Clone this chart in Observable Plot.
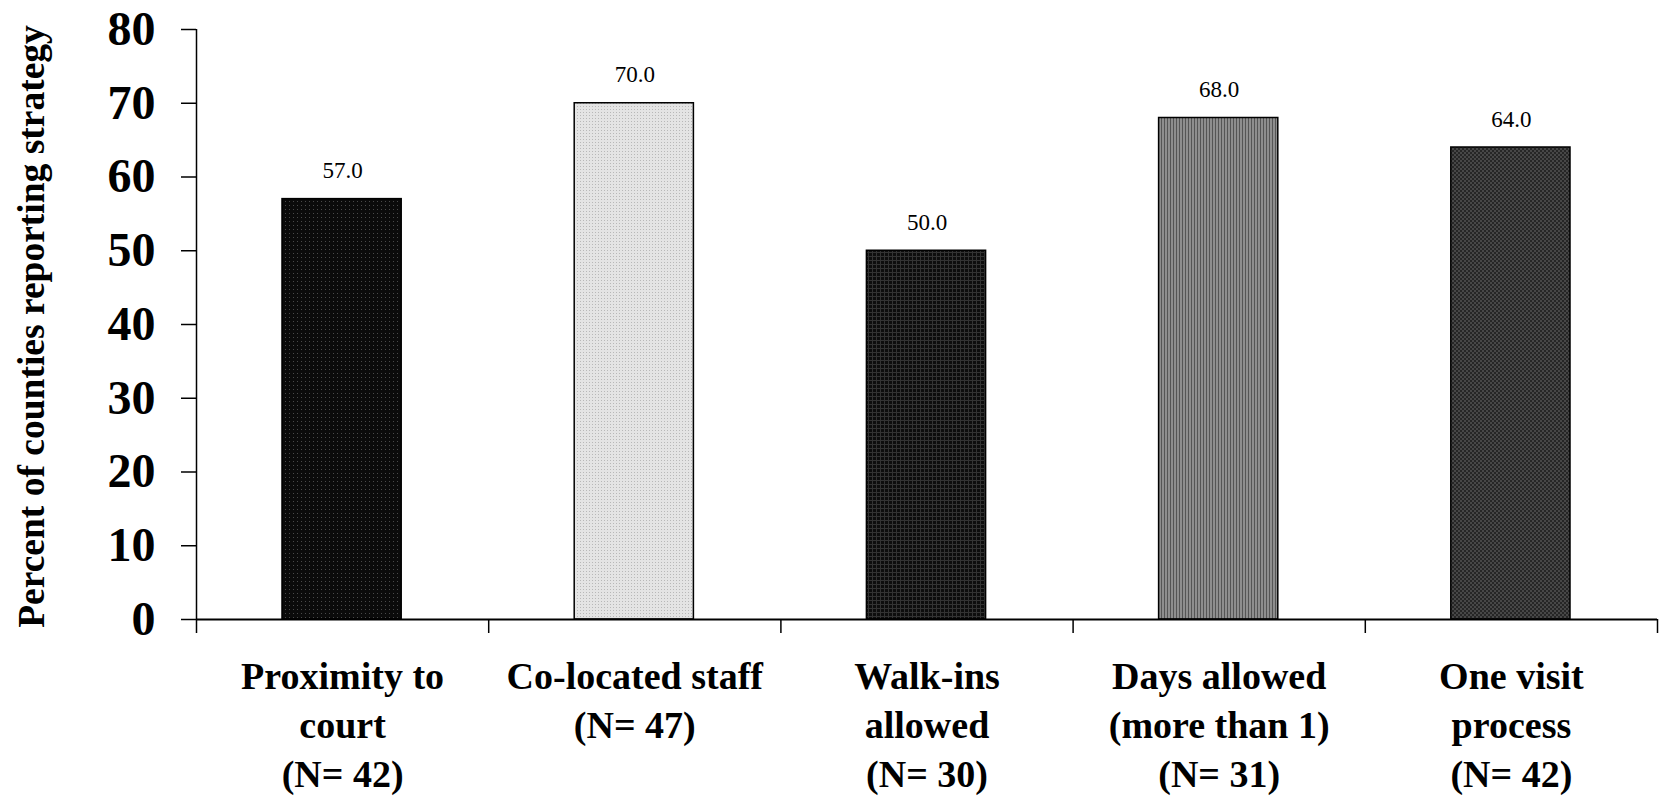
<!DOCTYPE html>
<html>
<head>
<meta charset="utf-8">
<script src="https://cdn.jsdelivr.net/npm/d3@7"></script>
<script src="https://cdn.jsdelivr.net/npm/@observablehq/plot@0.6"></script>
<style>
  html, body { margin: 0; padding: 0; background: #fff; }
  #chart { width: 1659px; height: 798px; }
</style>
</head>
<body>
<div id="chart"></div>
<script>
// ---- data ----
const categories = [
  "Proximity to\ncourt\n(N= 42)",
  "Co-located staff\n(N= 47)",
  "Walk-ins\nallowed\n(N= 30)",
  "Days allowed\n(more than 1)\n(N= 31)",
  "One visit\nprocess\n(N= 42)"
];
const values = [57.0, 70.0, 50.0, 68.0, 64.0];
const yTicks = [0, 10, 20, 30, 40, 50, 60, 70, 80];
const yLabel = ["Percent of counties reporting strategy"];
const patternIds = ["pat0", "pat1", "pat2", "pat3", "pat4"];

// ---- chart ----
const data = values.map((v, i) => ({i, v, cat: categories[i], pat: `url(#${patternIds[i]})`}));
const boundaries = d3.range(categories.length + 1);
const centers = categories.map((c, i) => i + 0.5);
const font = "'Liberation Serif', 'Times New Roman', serif";

const svg = Plot.plot({
  width: 1659,
  height: 798,
  marginLeft: 196,
  marginRight: 2,
  marginTop: 29,
  marginBottom: 179,
  style: {fontFamily: font, color: "#000", background: "#fff", overflow: "visible"},
  x: {type: "linear", domain: [0, categories.length], axis: null},
  y: {domain: [0, 80], axis: null},
  color: {type: "identity"},
  marks: [
    Plot.rectY(data, {
      x1: d => d.i, x2: d => d.i + 1, y1: 0, y2: "v",
      insetLeft: 86, insetRight: 87,
      fill: "pat", stroke: "#000", strokeWidth: 1.5
    }),
    Plot.text(data, {
      x: d => d.i + 0.5, y: "v", text: d => d.v.toFixed(1),
      lineAnchor: "bottom", dy: -21, fontSize: 23, fill: "#000"
    }),
    Plot.ruleX([0], {stroke: "#000", strokeWidth: 1.5}),
    Plot.ruleY([0], {stroke: "#000", strokeWidth: 2.2}),
    Plot.axisY({
      ticks: yTicks, tickSize: 15, tickPadding: 26, tickFormat: d => String(d),
      fontSize: 48, fontWeight: "bold", label: null, strokeWidth: 1.5
    }),
    Plot.axisX({
      ticks: boundaries, tickSize: 14, tickFormat: () => "", label: null, strokeWidth: 1.5
    }),
    Plot.axisX({
      ticks: centers, tickSize: 0, tickPadding: 35,
      tickFormat: v => categories[Math.floor(v)],
      fontSize: 38, fontWeight: "bold", lineHeight: 1.29, label: null
    }),
    Plot.text(yLabel, {
      frameAnchor: "left", text: d => d, rotate: -90, textAnchor: "middle",
      lineAnchor: "bottom", dx: -153, dy: 2, fontSize: 37.5, fontWeight: "bold", fill: "#000"
    })
  ]
});

// SVG fill patterns imitating the original hatch textures
const defs = `
<defs>
  <pattern id="pat0" width="4" height="4" patternUnits="userSpaceOnUse">
    <rect width="4" height="4" fill="#0b0b0b"/>
    <rect x="1" y="1" width="1" height="1" fill="#4a4a4a"/>
  </pattern>
  <pattern id="pat1" width="3" height="3" patternUnits="userSpaceOnUse">
    <rect width="3" height="3" fill="#e4e4e4"/>
    <rect x="1" y="1" width="1" height="1" fill="#b8b8b8"/>
  </pattern>
  <pattern id="pat2" width="4" height="4" patternUnits="userSpaceOnUse">
    <rect width="4" height="4" fill="#0d0d0d"/>
    <rect x="0" y="0" width="4" height="1" fill="#333"/>
    <rect x="0" y="0" width="1" height="4" fill="#333"/>
  </pattern>
  <pattern id="pat3" width="3" height="3" patternUnits="userSpaceOnUse">
    <rect width="3" height="3" fill="#8e8e8e"/>
    <rect x="0" y="0" width="1" height="3" fill="#555"/>
  </pattern>
  <pattern id="pat4" width="4" height="4" patternUnits="userSpaceOnUse">
    <rect width="4" height="4" fill="#262626"/>
    <rect x="0" y="0" width="2" height="2" fill="#474747"/>
    <rect x="2" y="2" width="2" height="2" fill="#474747"/>
  </pattern>
</defs>`;
svg.insertAdjacentHTML("afterbegin", defs);
document.getElementById("chart").appendChild(svg);
</script>
</body>
</html>
